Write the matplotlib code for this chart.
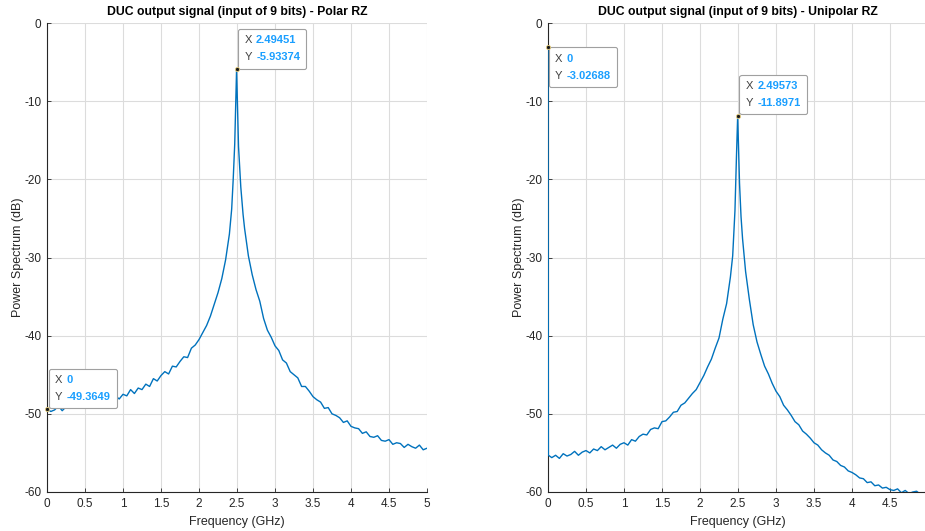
import matplotlib.pyplot as plt
import numpy as np
from matplotlib.offsetbox import AnnotationBbox, HPacker, TextArea, VPacker

plt.rcParams['font.family'] = ['Liberation Sans', 'DejaVu Sans']
plt.rcParams['axes.unicode_minus'] = False

# Polar RZ spectrum (GHz, dB)
polar_freq = [0.00, 0.05, 0.10, 0.15, 0.20, 0.25, 0.30, 0.35, 0.40, 0.45,
              0.50, 0.55, 0.60, 0.65, 0.70, 0.75, 0.80, 0.85, 0.90, 0.95,
              1.00, 1.05, 1.10, 1.15, 1.20, 1.25, 1.30, 1.35, 1.40, 1.45,
              1.50, 1.55, 1.60, 1.65, 1.70, 1.75, 1.80, 1.85, 1.90, 1.95,
              2.00, 2.05, 2.10, 2.15, 2.20, 2.25, 2.30, 2.35, 2.40, 2.43,
              2.45, 2.47, 2.49451, 2.52, 2.55, 2.58, 2.60, 2.65, 2.70, 2.75,
              2.80, 2.85, 2.90, 2.95, 3.00, 3.05, 3.10, 3.15, 3.20, 3.25,
              3.30, 3.35, 3.40, 3.45, 3.50, 3.55, 3.60, 3.65, 3.70, 3.75,
              3.80, 3.85, 3.90, 3.95, 4.00, 4.05, 4.10, 4.15, 4.20, 4.25,
              4.30, 4.35, 4.40, 4.45, 4.50, 4.55, 4.60, 4.65, 4.70, 4.75,
              4.80, 4.85, 4.90, 4.95, 5.00]
polar_db = [-49.3649, -49.7, -49.5, -49.0, -49.6, -49.1, -49.3, -48.7, -49.2, -49.0,
            -48.6, -49.1, -48.5, -48.7, -48.1, -48.6, -48.0, -48.2, -47.7, -48.1,
            -47.5, -47.7, -46.9, -47.4, -46.7, -46.9, -46.2, -46.5, -45.5, -45.8,
            -45.1, -44.6, -44.9, -43.9, -44.0, -43.3, -42.7, -42.8, -41.6, -41.2,
            -40.5, -39.6, -38.7, -37.5, -36.0, -34.5, -32.7, -30.3, -27.0, -23.8,
            -20.0, -15.5, -5.93374, -15.8, -21.0, -24.5, -26.3, -29.8, -32.2, -34.1,
            -35.6, -37.8, -39.3, -40.2, -41.3, -41.9, -43.1, -43.5, -44.6, -45.0,
            -45.4, -46.5, -46.5, -47.1, -47.8, -48.2, -48.5, -49.3, -49.2, -50.0,
            -50.2, -50.5, -51.1, -50.9, -51.6, -51.8, -51.9, -52.5, -52.3, -52.9,
            -53.0, -52.8, -53.4, -53.5, -53.3, -53.9, -53.7, -53.8, -54.3, -53.9,
            -54.2, -54.4, -54.0, -54.6, -54.4]

# Unipolar RZ spectrum
unipolar_freq = [0.00, 0.005, 0.05, 0.10, 0.15, 0.20, 0.25, 0.30, 0.35, 0.40, 0.45,
                 0.50, 0.55, 0.60, 0.65, 0.70, 0.75, 0.80, 0.85, 0.90, 0.95,
                 1.00, 1.05, 1.10, 1.15, 1.20, 1.25, 1.30, 1.35, 1.40, 1.45,
                 1.50, 1.55, 1.60, 1.65, 1.70, 1.75, 1.80, 1.85, 1.90, 1.95,
                 2.00, 2.05, 2.10, 2.15, 2.20, 2.25, 2.30, 2.35, 2.40, 2.43,
                 2.46, 2.48, 2.49573, 2.52, 2.54, 2.56, 2.60, 2.65, 2.70, 2.75,
                 2.80, 2.85, 2.90, 2.95, 3.00, 3.05, 3.10, 3.15, 3.20, 3.25,
                 3.30, 3.35, 3.40, 3.45, 3.50, 3.55, 3.60, 3.65, 3.70, 3.75,
                 3.80, 3.85, 3.90, 3.95, 4.00, 4.05, 4.10, 4.15, 4.20, 4.25,
                 4.30, 4.35, 4.40, 4.45, 4.50, 4.55, 4.60, 4.65, 4.70, 4.75,
                 4.80, 4.85, 4.90, 4.95]
unipolar_db = [-3.02688, -55.3, -55.6, -55.3, -55.7, -55.1, -55.4, -55.2, -54.8, -55.3, -54.9,
               -54.7, -55.0, -54.5, -54.7, -54.2, -54.6, -54.3, -54.0, -54.4, -53.9,
               -53.7, -54.0, -53.3, -53.5, -52.9, -52.6, -52.7, -52.0, -51.8, -51.9,
               -51.0, -50.9, -50.4, -49.8, -49.7, -48.9, -48.6, -48.0, -47.4, -46.9,
               -46.0, -45.1, -44.0, -43.0, -41.6, -40.3, -37.9, -35.9, -32.5, -29.8,
               -24.0, -17.0, -11.8971, -20.5, -24.8, -27.6, -31.8, -35.4, -38.6, -40.8,
               -42.4, -43.9, -44.9, -46.1, -47.1, -47.8, -48.9, -49.5, -50.2, -51.0,
               -51.4, -52.2, -52.6, -53.1, -53.7, -54.0, -54.6, -55.0, -55.3, -55.9,
               -56.1, -56.6, -56.8, -57.3, -57.5, -57.8, -58.2, -58.3, -58.8, -58.7,
               -59.2, -59.1, -59.5, -59.4, -59.7, -59.8, -59.6, -60.1, -59.8, -60.2,
               -60.0, -59.9, -60.3, -60.1]

titles = ['DUC output signal (input of 9 bits) - Polar RZ',
          'DUC output signal (input of 9 bits) - Unipolar RZ']
# data tips: (x, y, x text, y text, offset in pixels)
polar_tips = [(2.49451, -5.93374, '2.49451', '-5.93374', (8, 7)),
              (0, -49.3649, '0', '-49.3649', (8, 7))]
unipolar_tips = [(0, -3.02688, '0', '-3.02688', (7, -7)),
                 (2.49573, -11.8971, '2.49573', '-11.8971', (8, 8))]

LINE = '#0072BD'
DARK = '#262626'
TIPBLUE = '#1a9fff'


def add_tip(ax, x, y, xs, ys, off, below):
    rows = []
    for lab, val in (('X', xs), ('Y', ys)):
        rows.append(HPacker(children=[
            TextArea(lab, textprops=dict(color='#404040', fontsize=8)),
            TextArea(val, textprops=dict(color=TIPBLUE, fontsize=8, fontweight='bold'))],
            align='baseline', pad=0, sep=3))
    box = VPacker(children=rows, align='left', pad=0, sep=5)
    align = (0, 1) if below else (0, 0)
    ab = AnnotationBbox(box, (x, y), xybox=off, xycoords='data',
                        boxcoords='offset pixels', box_alignment=align,
                        frameon=True, pad=0.45,
                        bboxprops=dict(boxstyle='round,pad=0.45,rounding_size=0.15',
                                       facecolor='white', edgecolor='#a0a0a0', lw=0.8),
                        zorder=5, annotation_clip=False)
    ax.add_artist(ab)
    ax.plot([x], [y], 'o', ms=3, mfc='#1a1a1a', mec='#e8d080', mew=0.6,
            zorder=6, clip_on=False)


fig = plt.figure(figsize=(9.25, 5.31), dpi=100)
ax1 = fig.add_axes([47 / 925, 39 / 531, 380 / 925, 469 / 531])
ax2 = fig.add_axes([548 / 925, 39 / 531, 380 / 925, 469 / 531])

for ax, f, d, title in ((ax1, polar_freq, polar_db, titles[0]),
                        (ax2, unipolar_freq, unipolar_db, titles[1])):
    ax.plot(f, d, color=LINE, lw=1.0, zorder=3)
    ax.set_xlim(0, 5)
    ax.set_ylim(-60, 0)
    ax.set_yticks(np.arange(-60, 1, 10))
    ax.grid(True, color='#dcdcdc', lw=0.8)
    ax.set_axisbelow(True)
    ax.spines['top'].set_visible(False)
    ax.spines['right'].set_visible(False)
    for s in ('left', 'bottom'):
        ax.spines[s].set_color(DARK)
        ax.spines[s].set_linewidth(0.8)
    ax.tick_params(direction='in', length=3, width=0.6, colors=DARK,
                   labelsize=8.5, pad=4)
    ax.set_xlabel('Frequency (GHz)', fontsize=9, color=DARK, labelpad=5)
    ax.set_ylabel('Power Spectrum (dB)', fontsize=9, color=DARK, labelpad=0)
    ax.set_title(title, fontsize=8.8, fontweight='bold', color='black', pad=6)

ax1.set_xticks(np.arange(0, 5.01, 0.5))
ax1.set_xticklabels(['0', '0.5', '1', '1.5', '2', '2.5', '3', '3.5', '4', '4.5', '5'])
ax2.set_xticks(np.arange(0, 5.01, 0.5))
ax2.set_xticklabels(['0', '0.5', '1', '1.5', '2', '2.5', '3', '3.5', '4', '4.5', ''])

add_tip(ax1, *polar_tips[0], below=False)
add_tip(ax1, *polar_tips[1], below=False)
add_tip(ax2, *unipolar_tips[0], below=True)
add_tip(ax2, *unipolar_tips[1], below=False)

fig.savefig('out.png', dpi=100, facecolor='white')
